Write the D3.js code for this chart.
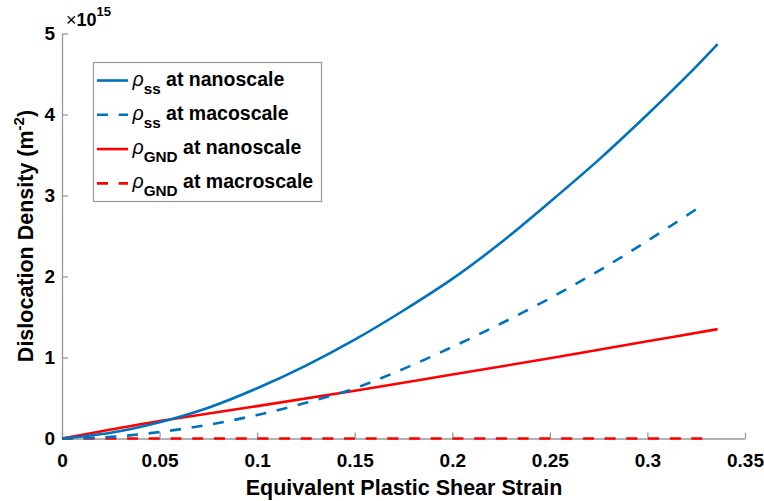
<!DOCTYPE html>
<html>
<head>
<meta charset="utf-8">
<script src="https://cdn.jsdelivr.net/npm/d3@7"></script>
<style>
  body { margin: 0; background: #fff; }
  svg { font-family: "Liberation Sans", Arial, sans-serif; }
</style>
</head>
<body>
<svg id="chart" width="764" height="501"></svg>
<script>
// strain values (x) and dislocation densities (x 1e15 m^-2)
var ssNanoX = [0, 0.025, 0.05, 0.075, 0.1, 0.125, 0.15, 0.175, 0.2, 0.225, 0.25, 0.275, 0.3, 0.32, 0.336];
var ssNanoY = [0, 0.07, 0.20, 0.38, 0.62, 0.90, 1.22, 1.58, 1.97, 2.42, 2.92, 3.44, 4.00, 4.47, 4.87];

var ssMacroX = [0, 0.025, 0.05, 0.075, 0.1, 0.125, 0.15, 0.175, 0.2, 0.225, 0.25, 0.275, 0.3, 0.325];
var ssMacroY = [0, 0.02, 0.08, 0.17, 0.29, 0.44, 0.62, 0.86, 1.13, 1.42, 1.73, 2.07, 2.44, 2.83];

var gndNanoX = [0, 0.025, 0.05, 0.1, 0.15, 0.2, 0.25, 0.3, 0.336];
var gndNanoY = [0, 0.11, 0.215, 0.40, 0.59, 0.79, 0.99, 1.20, 1.35];

var gndMacroX = [0, 0.1, 0.2, 0.329];
var gndMacroY = [0, 0, 0, 0];

var xTicks = [0, 0.05, 0.1, 0.15, 0.2, 0.25, 0.3, 0.35];
var yTicks = [0, 1, 2, 3, 4, 5];

var series = [
  {name: "ss", label: " at nanoscale", x: ssNanoX, y: ssNanoY, color: "#0072BD", dash: null},
  {name: "ss", label: " at macoscale", x: ssMacroX, y: ssMacroY, color: "#0072BD", dash: "11,10.7"},
  {name: "GND", label: " at nanoscale", x: gndNanoX, y: gndNanoY, color: "#FF0000", dash: null},
  {name: "GND", label: " at macroscale", x: gndMacroX, y: gndMacroY, color: "#FF0000", dash: "11,10.7"}
];

var margin = {top: 33.5, right: 19, bottom: 62.5, left: 62};
var width = 764 - margin.left - margin.right,
    height = 501 - margin.top - margin.bottom;

var svg = d3.select("#chart");
var g = svg.append("g").attr("transform", "translate(" + margin.left + "," + margin.top + ")");

var x = d3.scaleLinear().domain([0, 0.35]).range([0, width]);
var y = d3.scaleLinear().domain([0, 5]).range([height, 0]);

var axisColor = "#999";

// ticks point inward like matlab
var xAxis = g.append("g")
  .attr("transform", "translate(0," + height + ")")
  .call(d3.axisBottom(x).tickValues(xTicks).tickSizeInner(-6).tickSizeOuter(0).tickPadding(15)
    .tickFormat(function(d) { return d === 0 ? "0" : String(+d.toFixed(2)); }));

var yAxis = g.append("g")
  .call(d3.axisLeft(y).tickValues(yTicks).tickSizeInner(-6).tickSizeOuter(0).tickPadding(7)
    .tickFormat(d3.format("d")));

[xAxis, yAxis].forEach(function(a) {
  a.select(".domain").attr("stroke", axisColor).attr("stroke-width", 1.3);
  a.selectAll(".tick line").attr("stroke", axisColor).attr("stroke-width", 1.3);
  a.selectAll(".tick text").attr("fill", "#000").attr("font-size", 19).attr("font-weight", "bold");
});
xAxis.selectAll(".tick text").attr("dy", "0.71em");

// curves
var line = d3.line()
  .x(function(d) { return x(d[0]); })
  .y(function(d) { return y(d[1]); })
  .curve(d3.curveCatmullRom);

series.slice().reverse().forEach(function(s) {
  g.append("path")
    .datum(d3.zip(s.x, s.y))
    .attr("fill", "none")
    .attr("stroke", s.color)
    .attr("stroke-width", 2.6)
    .attr("stroke-dasharray", s.dash)
    .attr("d", line);
});

// exponent label
var ex = svg.append("text")
  .attr("x", 66).attr("y", 25.5)
  .attr("font-size", 18);
ex.append("tspan").text("\u00d7");
ex.append("tspan").attr("font-weight", "bold").text("10");
ex.append("tspan").attr("font-weight", "bold").attr("font-size", 13).attr("dy", -10).text("15");

// axis labels
svg.append("text")
  .attr("x", 404).attr("y", 495)
  .attr("text-anchor", "middle")
  .attr("font-size", 21.5).attr("font-weight", "bold")
  .text("Equivalent Plastic Shear Strain");

var yl = svg.append("text")
  .attr("transform", "translate(33," + (margin.top + height / 2) + ") rotate(-90)")
  .attr("text-anchor", "middle")
  .attr("font-size", 21.5).attr("font-weight", "bold");
yl.append("tspan").text("Dislocation Density (m");
yl.append("tspan").attr("font-size", 15).attr("dy", -9).text("-2");
yl.append("tspan").attr("dy", 9).text(")");

// legend
var lg = svg.append("g").attr("transform", "translate(93.5,62.5)");
lg.append("rect")
  .attr("width", 228).attr("height", 139)
  .attr("fill", "#fff").attr("stroke", axisColor).attr("stroke-width", 1.2);

series.forEach(function(s, i) {
  var cy = 18 + i * 34.3;
  lg.append("line")
    .attr("x1", 3.5).attr("x2", 34.5).attr("y1", cy).attr("y2", cy)
    .attr("stroke", s.color).attr("stroke-width", 2.6)
    .attr("stroke-dasharray", s.dash);
  var t = lg.append("text").attr("x", 39).attr("y", cy + 5).attr("font-size", 19.5);
  t.append("tspan").attr("font-style", "italic").text("\u03c1");
  t.append("tspan").attr("font-weight", "bold").attr("font-size", 15.3).attr("dy", 8).text(s.name);
  t.append("tspan").attr("font-weight", "bold").attr("dy", -8).text(s.label);
});
</script>
</body>
</html>
